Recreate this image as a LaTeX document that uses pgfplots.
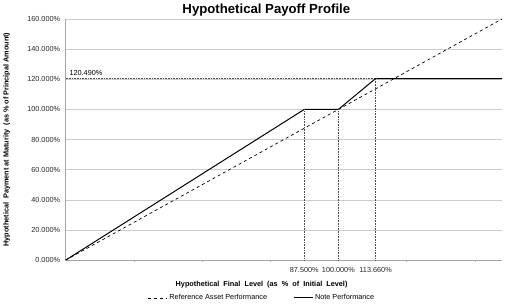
\documentclass[border=0pt]{standalone}
\usepackage{pgfplots}
\pgfplotsset{compat=1.18}
\usepackage{fontspec}
\setmainfont{Liberation Sans}
\begin{document}
\begin{tikzpicture}[x=1pt,y=1pt]
\begin{axis}[
  at={(0,0)}, anchor=south west,
  scale only axis,
  width=437pt, height=241.5pt,
  xmin=0, xmax=160, ymin=0, ymax=160,
  axis x line*=bottom, axis y line*=left,
  axis line style={draw=black!35, line width=0.8pt},
  every outer x axis line/.append style={-},
  every outer y axis line/.append style={-},
  /pgf/number format/assume math mode=true,
  ytick={0,20,...,160},
  yticklabels={0.000\%,20.000\%,40.000\%,60.000\%,80.000\%,100.000\%,120.000\%,140.000\%,160.000\%},
  xtick={87.5,100,113.66},
  xticklabels={87.500\%,100.000\%,113.660\%},
  minor xtick={25,50,75,125,150},
  major tick length=0pt,
  minor tick length=2pt,
  tick align=outside,
  minor tick style={black!30},
  ymajorgrids,
  major grid style={black!20, line width=0.6pt},
  tick label style={font=\fontsize{7.3}{8}\selectfont, text=black!85},
  yticklabel style={xshift=-2pt},
  xticklabel style={yshift=-4pt},
  xlabel={\textbf{Hypothetical\ \ Final\ \ Level\ \ (as\ \ \%\ \ of\ \ Initial\ \ Level)}},
  xlabel style={font=\fontsize{7.3}{8}\selectfont, at={(axis description cs:0.449,-0.101)}, anchor=center},
  ylabel={\textbf{Hypothetical\ \ Payment at Maturity\ \ (as \% of Principal Amount)}},
  ylabel style={font=\fontsize{7.3}{8}\selectfont, at={(axis description cs:-0.135,0.5)}, anchor=center},
  legend columns=2,
  legend style={draw=none, fill=none, font=\fontsize{7.3}{8}\selectfont,
    at={(axis description cs:0.45,-0.157)}, anchor=center,
    /tikz/every even column/.append style={column sep=24pt},
    inner sep=0pt},
  legend image code/.code={\draw[#1] (0pt,0pt) -- (19pt,0pt);},
  clip=false,
]
% reference asset: one-for-one with the underlying
\addplot[black, dashed, line width=0.7pt] coordinates {(0,0) (160,160)};
\addlegendentry{Reference Asset Performance}
% note payoff
\addplot[black, line width=1pt] coordinates {(0,0) (87.5,100) (100,100) (113.66,120.49) (160,120.49)};
\addlegendentry{Note Performance}
% guide lines
\addplot[black!70, densely dotted, line width=0.6pt, forget plot] coordinates {(0,120.49) (113.66,120.49)};
\addplot[black!70, densely dotted, line width=0.6pt, forget plot] coordinates {(87.5,0) (87.5,100)};
\addplot[black!70, densely dotted, line width=0.6pt, forget plot] coordinates {(100,0) (100,100)};
\addplot[black!70, densely dotted, line width=0.6pt, forget plot] coordinates {(113.66,0) (113.66,120.49)};
\node[anchor=south west, font=\fontsize{7.3}{8}\selectfont, inner sep=1pt] at (axis cs:1,121.5) {120.490\%};
\end{axis}
\node[font=\fontsize{13.2}{15}\selectfont\bfseries] at (201,250.5) {Hypothetical Payoff Profile};
\path (-65,-47.5) rectangle (441,260.5);
\end{tikzpicture}
\end{document}
